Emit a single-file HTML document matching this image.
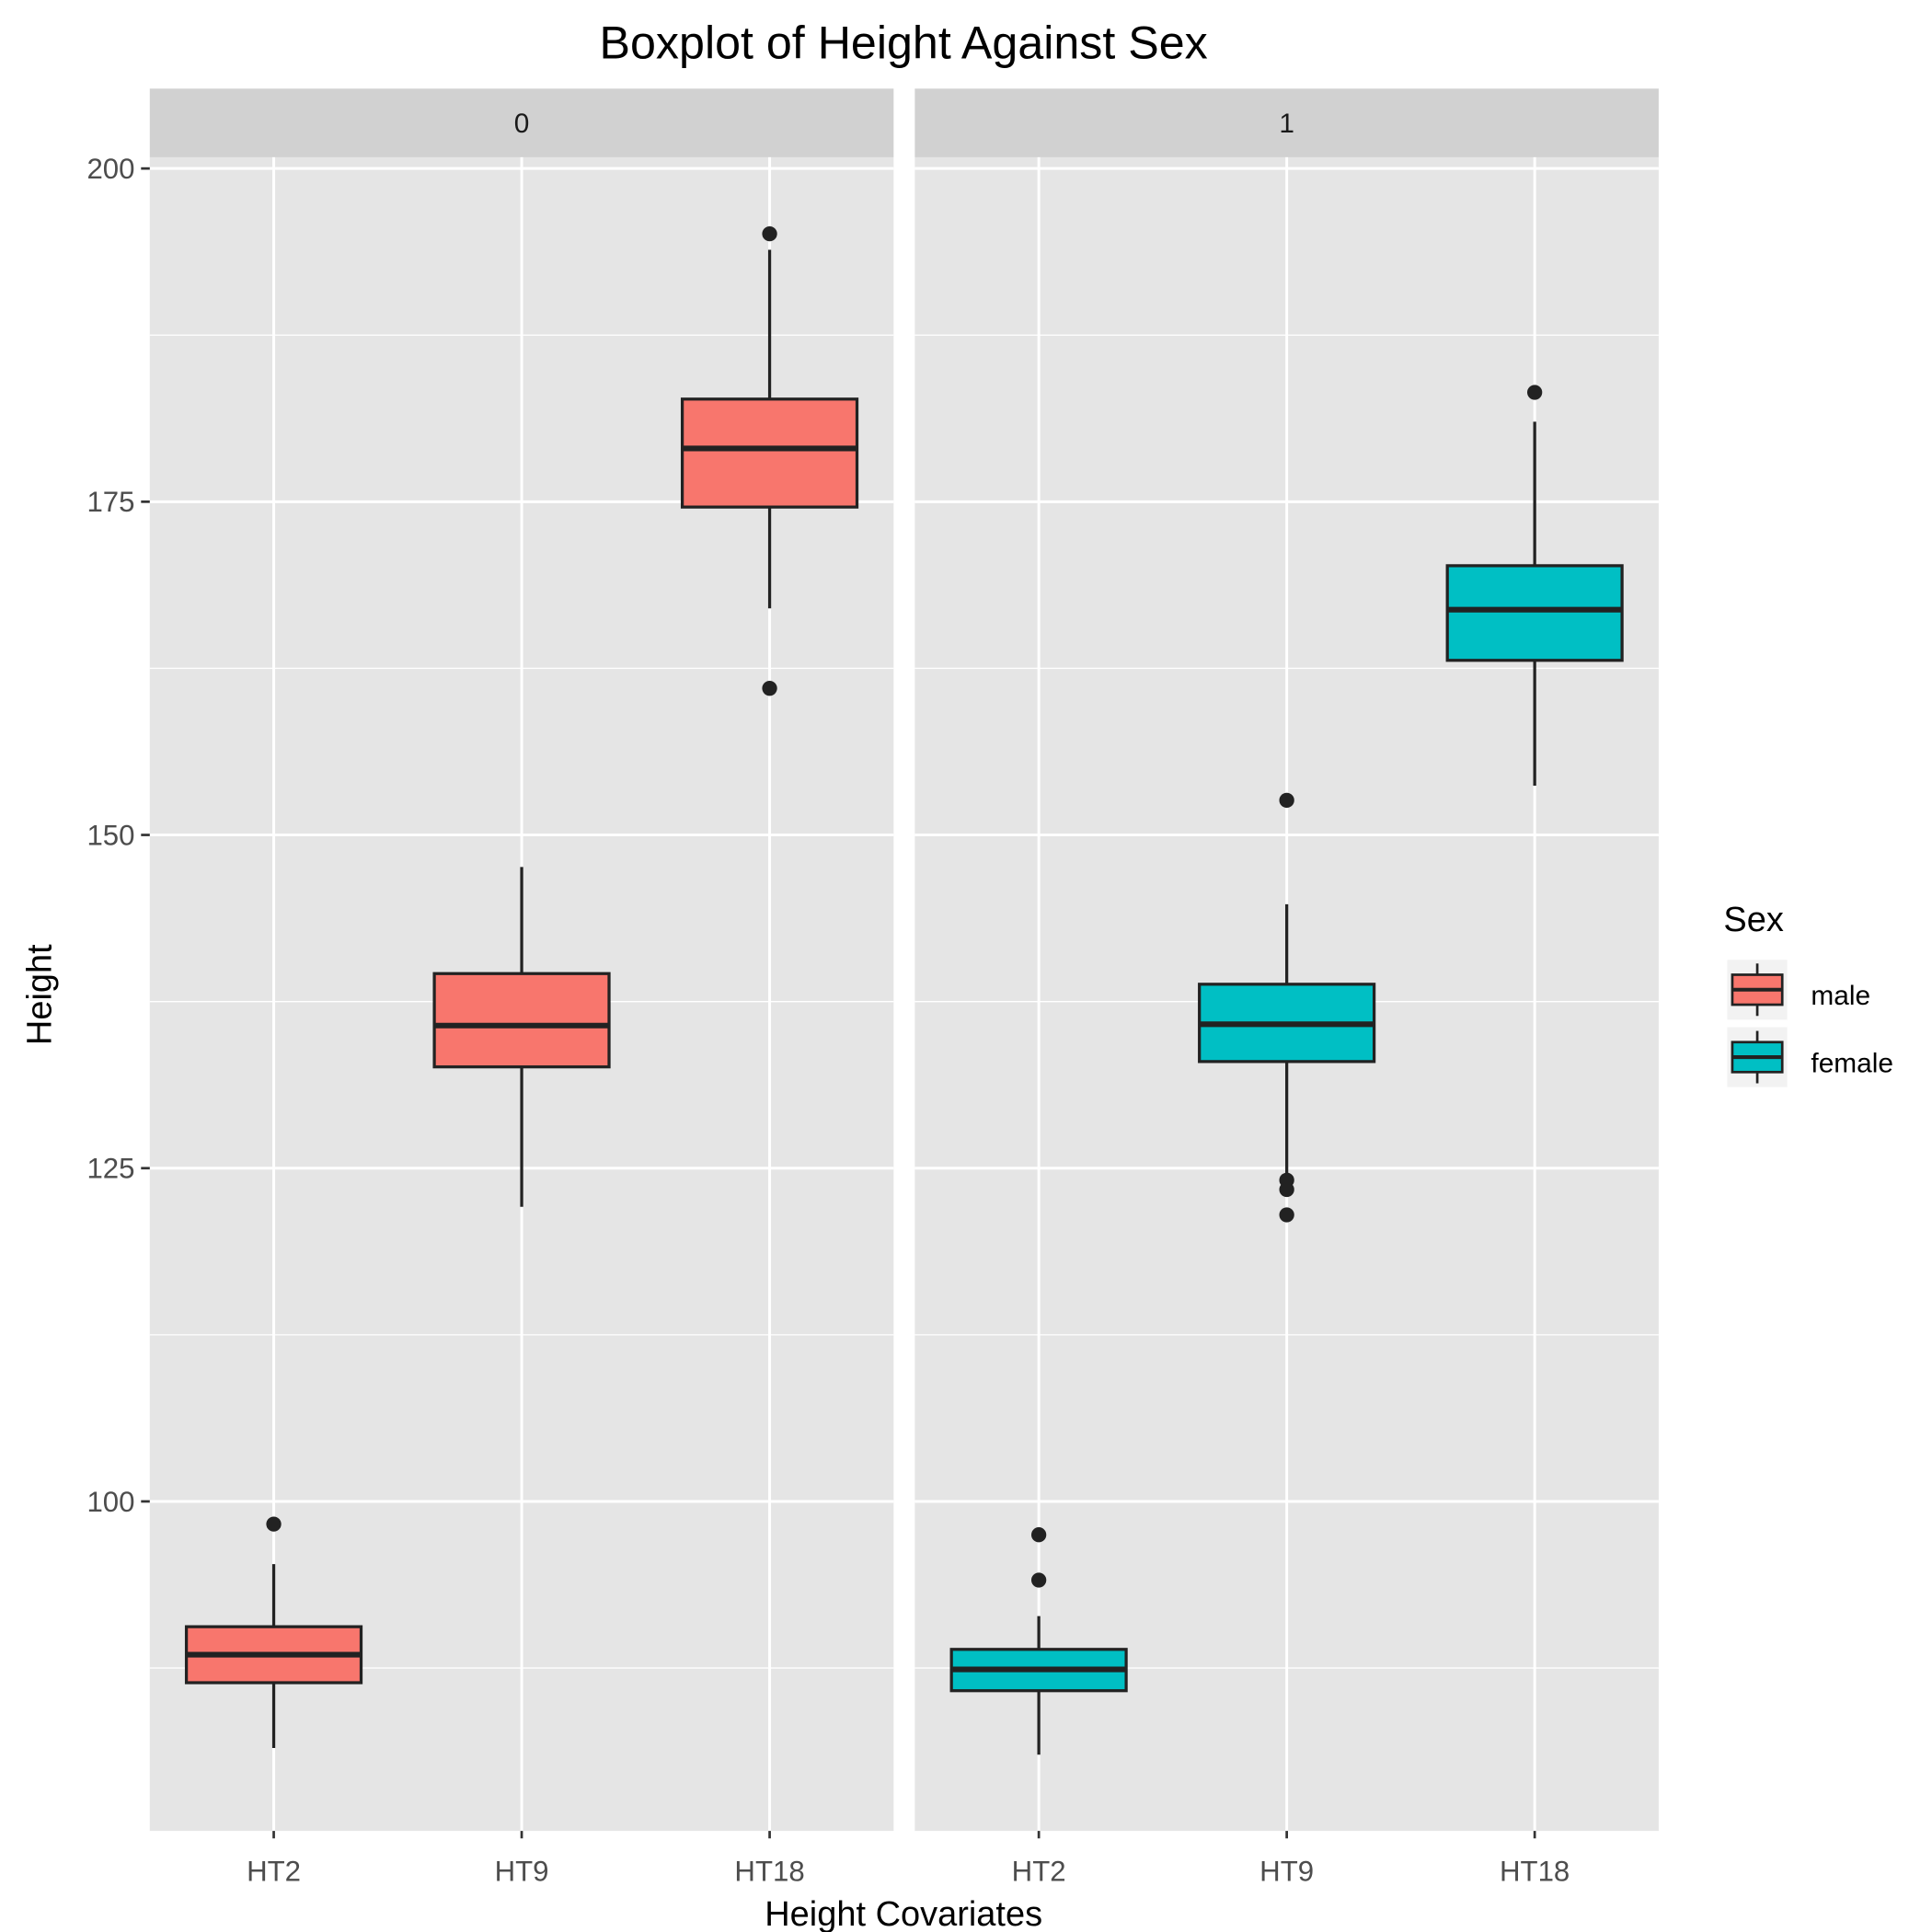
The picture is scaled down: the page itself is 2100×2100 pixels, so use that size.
<!DOCTYPE html>
<html><head><meta charset="utf-8"><style>
html,body{margin:0;padding:0;background:#fff}
svg{display:block}
text{font-family:"Liberation Sans",Arial,sans-serif}
</style></head><body>
<svg id="chart" width="2100" height="2100" viewBox="0 0 1548 1548" xmlns="http://www.w3.org/2000/svg">
<text x="724" y="47" font-size="37" text-anchor="middle" fill="#000">Boxplot of Height Against Sex</text>
<g id="panels"></g>
<text x="724" y="1543" font-size="28" text-anchor="middle" fill="#000">Height Covariates</text>
<text transform="translate(41,797) rotate(-90)" font-size="28" text-anchor="middle" fill="#000">Height</text>
<g>
<text x="1381" y="746" font-size="28" fill="#000">Sex</text>
<g>
<rect x="1384" y="769" width="48" height="48" fill="#F2F2F2"/>
<line x1="1408" y1="772" x2="1408" y2="814" stroke="#222" stroke-width="2"/>
<rect x="1388" y="781" width="40" height="24" fill="#F8766D" stroke="#222" stroke-width="2"/>
<line x1="1388" y1="793" x2="1428" y2="793" stroke="#222" stroke-width="3"/>
<text x="1451" y="805" font-size="22" fill="#000">male</text></g>
<g>
<rect x="1384" y="823" width="48" height="48" fill="#F2F2F2"/>
<line x1="1408" y1="826" x2="1408" y2="868" stroke="#222" stroke-width="2"/>
<rect x="1388" y="835" width="40" height="24" fill="#00BFC4" stroke="#222" stroke-width="2"/>
<line x1="1388" y1="847" x2="1428" y2="847" stroke="#222" stroke-width="3"/>
<text x="1451" y="859" font-size="22" fill="#000">female</text></g>
</g>
</svg>
<script>
const categories = ["HT2","HT9","HT18"];
const panelLabels = ["0","1"];
const fills = ["#F8766D","#00BFC4"];
const yTicks = [100,125,150,175,200];
// [lowerWhisker, Q1, median, Q3, upperWhisker] per category
const male = [[81.5,86.4,88.5,90.6,95.3],[122.1,132.6,135.7,139.6,147.6],[167.0,174.6,179.0,182.7,193.9]];
const female = [[81.0,85.8,87.4,88.9,91.4],[124.3,133.0,135.8,138.8,144.8],[153.7,163.1,166.9,170.2,181.0]];
const maleOutliers = [[98.3],[],[195.1,161.0]];
const femaleOutliers = [[97.5,94.1],[152.6,124.1,123.4,121.5],[183.2]];
const series=[male,female], outl=[maleOutliers,femaleOutliers];
const NS="http://www.w3.org/2000/svg";
const g=document.getElementById('panels');
const pTop=126,pBot=1467;
const y=v=>135+(200-v)*10.68;
const panelX=[120,733], pw=596;
const xc=(p,i)=>panelX[p]+pw*(i+0.5)/3;
function mk(t,a){const e=document.createElementNS(NS,t);for(const k in a)e.setAttribute(k,a[k]);g.appendChild(e);return e;}
for(let p=0;p<2;p++){
  const x0=panelX[p];
  let r=mk('rect',{x:x0,y:pTop,width:pw,height:pBot-pTop,fill:'#E5E5E5'});
  
  
  r=mk('rect',{x:x0,y:71,width:pw,height:55,fill:'#D1D1D1'});
  
  
  let t=mk('text',{x:x0+pw/2,y:106,'font-size':22,'text-anchor':'middle',fill:'#1A1A1A'});
  t.textContent=panelLabels[p];
  
  
  for(let k=0;k<yTicks.length;k++){
    const v=yTicks[k];
    const m=v-12.5;
    if(y(m)<pBot){let l=mk('line',{x1:x0,x2:x0+pw,y1:y(m),y2:y(m),stroke:'#fff','stroke-width':1});
      }
    let l=mk('line',{x1:x0,x2:x0+pw,y1:y(v),y2:y(v),stroke:'#fff','stroke-width':2.2});
    
  }
  for(let i=0;i<3;i++){
    const cx=xc(p,i);
    let l=mk('line',{x1:cx,x2:cx,y1:pTop,y2:pBot,stroke:'#fff','stroke-width':2.2});
    
  }
  for(let i=0;i<3;i++){
    const cx=xc(p,i), d=series[p][i], hw=70;
    let w=mk('line',{x1:cx,x2:cx,y1:y(d[4]),y2:y(d[0]),stroke:'#222','stroke-width':2.4});
    
    let b=mk('rect',{x:cx-hw,y:y(d[3]),width:2*hw,height:y(d[1])-y(d[3]),fill:fills[p],stroke:'#222','stroke-width':2.4});
    
    let m=mk('line',{x1:cx-hw,x2:cx+hw,y1:y(d[2]),y2:y(d[2]),stroke:'#222','stroke-width':4.5});
    
    for(const o of outl[p][i]){
      let c=mk('circle',{cx:cx,cy:y(o),r:6,fill:'#222'});
      
    }
    let tk=mk('line',{x1:cx,x2:cx,y1:pBot,y2:pBot+6,stroke:'#333','stroke-width':2});
    
    let tl=mk('text',{x:cx,y:1507,'font-size':23,'text-anchor':'middle',fill:'#4D4D4D'});
    tl.textContent=categories[i];
    
  }
}
for(const v of yTicks){
  let tk=mk('line',{x1:113,x2:120,y1:y(v),y2:y(v),stroke:'#333','stroke-width':2});
  
  let tl=mk('text',{x:108,y:y(v)+8,'font-size':23,'text-anchor':'end',fill:'#4D4D4D'});
  tl.textContent=v;
  
}
</script>
</body></html>
